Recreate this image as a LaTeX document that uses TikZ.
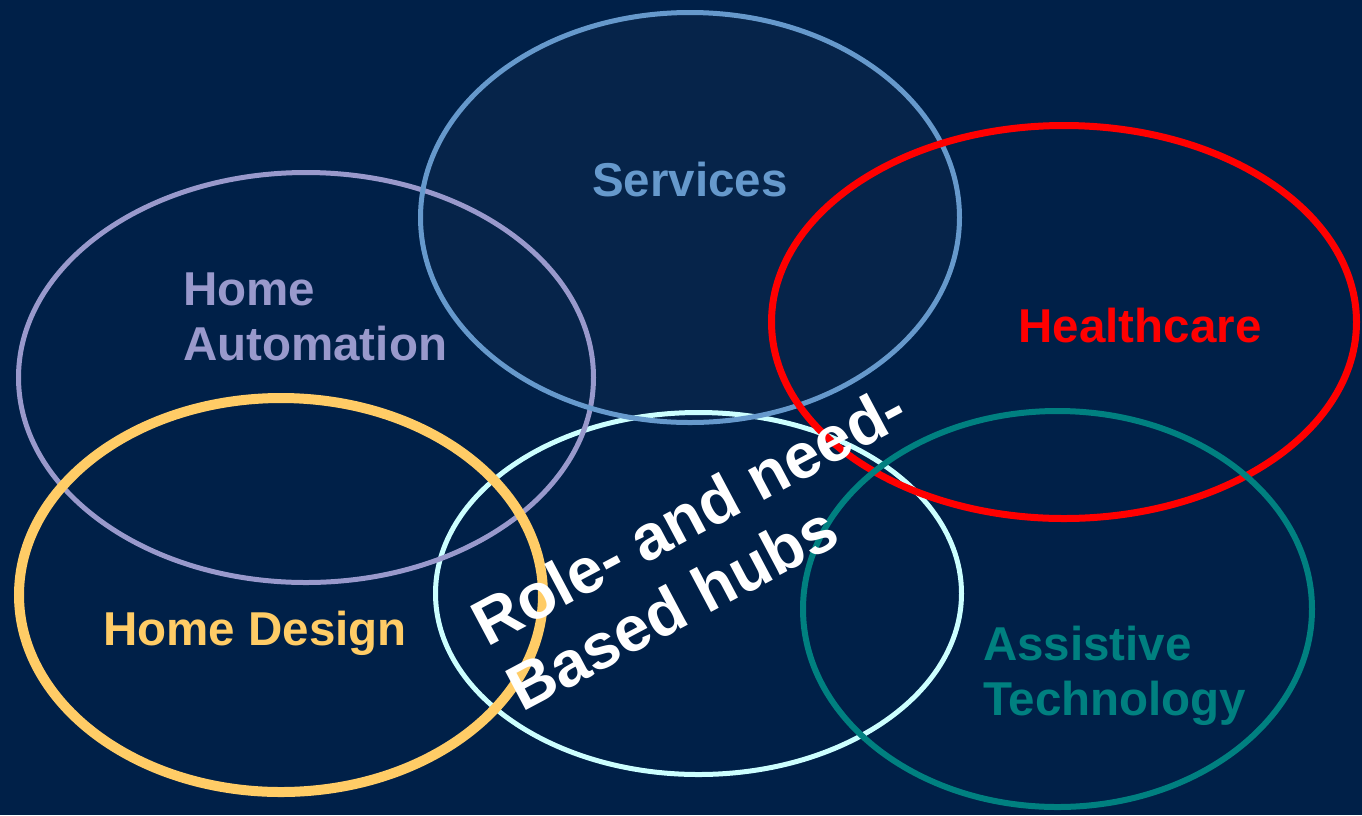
\documentclass[tikz,border=0pt]{standalone}
\usepackage{fontspec}
\setmainfont{Liberation Sans}
\usepackage{tikz}
\usetikzlibrary{shapes.geometric,positioning}

\definecolor{navy}{HTML}{002048}
\definecolor{servfill}{HTML}{06244A}
\definecolor{servblue}{HTML}{6699CC}
\definecolor{lavender}{HTML}{9999CC}
\definecolor{sand}{HTML}{FFCC66}
\definecolor{ice}{HTML}{CCFFFF}
\definecolor{tealish}{HTML}{008080}

\begin{document}
\begin{tikzpicture}[
    x=1pt, y=-1pt,
    ring/.style={ellipse, draw, line width=5pt, inner sep=0pt},
    tag/.style={font=\fontsize{47.5}{55}\selectfont\bfseries, inner sep=0pt, align=left},
    hubtag/.style={font=\fontsize{64}{74}\selectfont\bfseries, inner sep=0pt, align=left, text=white}
]
    \fill[navy] (0,0) rectangle (1362,815);
    \useasboundingbox (0,0) rectangle (1362,815);
    % service area is slightly lighter
    \fill[servfill] (690,217.5) ellipse [x radius=269.5, y radius=205];

    \node[ring, draw=ice, minimum width=526pt, minimum height=362pt] (hub) at (698.5,593.5) {};
    \node[ring, draw=lavender, minimum width=575pt, minimum height=410pt] (auto) at (306,377.5) {};
    \node[ring, draw=servblue, minimum width=539pt, minimum height=410pt] (serv) at (690,217.5) {};
    \node[ring, draw=red, line width=7pt, minimum width=585pt, minimum height=393pt] (care) at (1064,322) {};
    \node[ring, draw=tealish, line width=6pt, minimum width=509pt, minimum height=396pt] (assist) at (1057.5,609) {};
    \node[ring, draw=sand, line width=10pt, minimum width=524pt, minimum height=394pt] (design) at (281,595) {};

    \node[tag, text=servblue, anchor=base] (servtxt) at (690,196) {Services};
    \node[tag, text=lavender, anchor=north west] (autotxt) at (183,273) {Home\\Automation};
    \node[tag, text=red, anchor=base] (caretxt) at (1140,342) {Healthcare};
    \node[tag, text=sand, anchor=base] (designtxt) at (255,645) {Home Design};
    \node[tag, text=tealish, anchor=north west] (assisttxt) at (983,626) {Assistive\\Technology};
    \node[hubtag, rotate=28, anchor=north west] (hubtxt) at (465.5,606.6) {Role- and need-\\Based hubs};
\end{tikzpicture}
\end{document}
